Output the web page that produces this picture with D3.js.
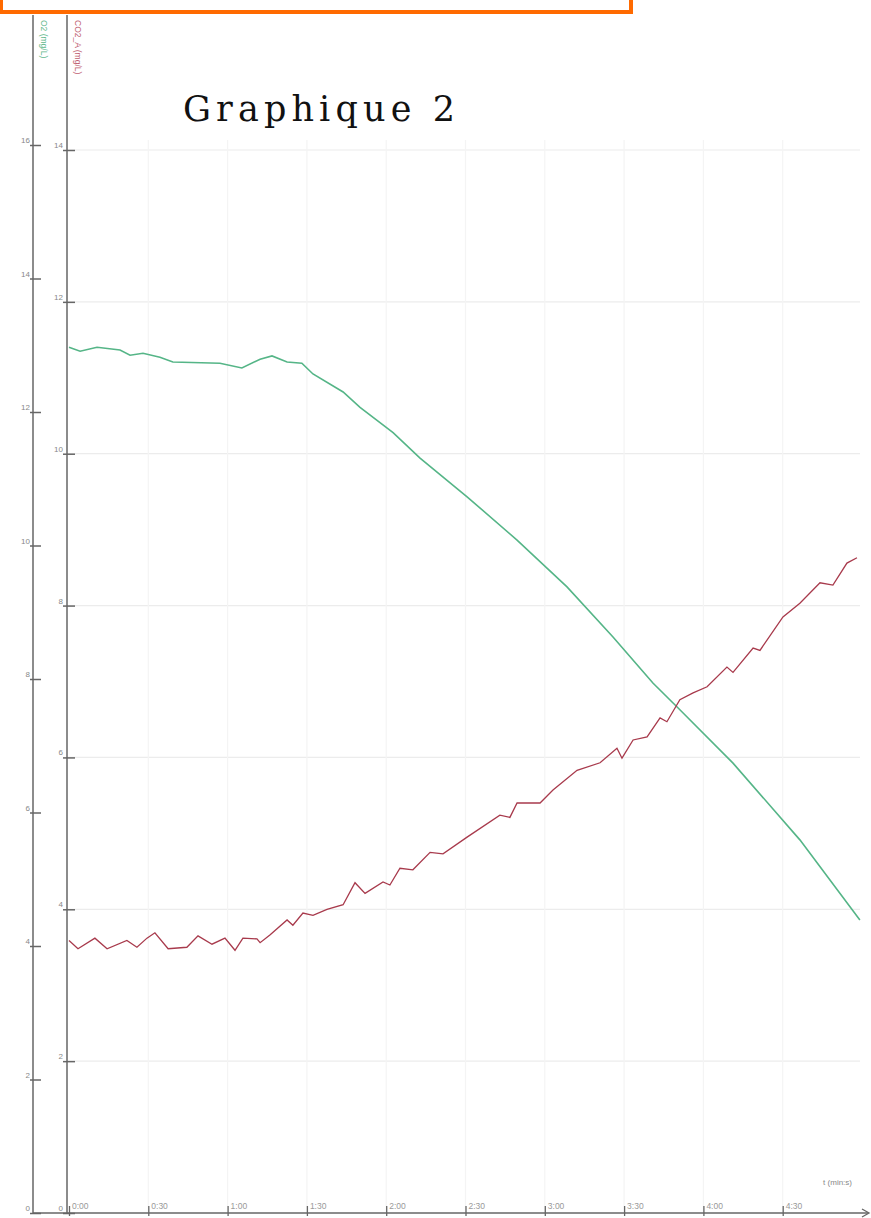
<!DOCTYPE html>
<html><head><meta charset="utf-8">
<script src="https://cdn.jsdelivr.net/npm/d3@7"></script>
<style>body{margin:0;background:#fff}svg{display:block}</style>
</head><body>
<script>
// time in seconds
const o2Time = [0,4.2,10.6,19.3,23.1,28.0,34.4,39.3,57.1,65.4,72.3,76.8,82.5,88.1,92.3,103.7,110.1,122.6,132.8,150.6,169.5,188.4,205.8,220.9,231.1,251.2,276.5,299.2];
const o2Values = [12.97,12.91,12.97,12.93,12.85,12.88,12.82,12.75,12.73,12.66,12.79,12.84,12.75,12.73,12.57,12.30,12.07,11.69,11.31,10.73,10.08,9.38,8.63,7.94,7.54,6.74,5.59,4.39];
const co2Time = [0,3.4,9.8,14.4,21.9,25.7,29.5,32.5,37.5,44.6,48.8,54.1,59.0,62.8,65.8,71.1,72.3,76.0,82.5,84.7,88.5,92.3,97.6,103.7,108.2,112.0,118.8,121.4,125.2,130.1,136.6,141.5,150.6,163.0,166.8,169.5,178.2,183.1,192.2,200.9,207.3,209.2,213.4,218.7,223.6,226.2,231.1,236.1,241.4,248.9,251.2,258.8,261.4,270.1,276.5,284.1,289.0,294.3,298.1];
const co2Values = [3.59,3.48,3.62,3.48,3.59,3.50,3.62,3.69,3.48,3.50,3.65,3.54,3.62,3.46,3.62,3.61,3.56,3.66,3.86,3.79,3.95,3.92,4.00,4.06,4.35,4.21,4.36,4.32,4.54,4.52,4.75,4.73,4.95,5.24,5.21,5.40,5.40,5.57,5.83,5.93,6.12,5.99,6.23,6.27,6.52,6.47,6.76,6.85,6.93,7.19,7.12,7.44,7.41,7.85,8.03,8.30,8.27,8.56,8.63];
const xTickValues = [0,30,60,90,120,150,180,210,240,270];
const xTickLabels = ["0:00","0:30","1:00","1:30","2:00","2:30","3:00","3:30","4:00","4:30"];
const o2Ticks = [0,2,4,6,8,10,12,14,16];
const co2Ticks = [0,2,4,6,8,10,12,14];
const title = "Graphique 2";
const o2Label = "O2 (mg/L)";
const co2Label = "CO2_A (mg/L)";
const xLabel = "t (min:s)";

const W = 871, H = 1218;
const svg = d3.select("body").append("svg").attr("width", W).attr("height", H);

const x = d3.scaleLinear().domain([0, 300]).range([69, 862]);
const yO2 = d3.scaleLinear().domain([0, 16]).range([1213, 145]);
const yCO2 = d3.scaleLinear().domain([0, 14]).range([1213, 150]);
const axisY = 1213, leftX = 33, rightX = 67;

// orange frame (partial, top)
svg.append("path").attr("d", "M1,-5 L1,12 L631,12 L631,-5")
  .attr("fill", "none").attr("stroke", "#ff6a00").attr("stroke-width", 4);

// gridlines
svg.append("g").selectAll("line").data(co2Ticks.filter(d => d > 0)).join("line")
  .attr("x1", rightX).attr("x2", 860).attr("y1", d => yCO2(d)).attr("y2", d => yCO2(d))
  .attr("stroke", "#ececec").attr("stroke-width", 1.2);
svg.append("g").selectAll("line").data(xTickValues.filter(d => d > 0)).join("line")
  .attr("x1", d => x(d)).attr("x2", d => x(d)).attr("y1", 140).attr("y2", axisY)
  .attr("stroke", "#f4f4f4").attr("stroke-width", 1.2);

// left (O2) axis
const gL = svg.append("g").attr("transform", `translate(${leftX},0)`)
  .call(d3.axisRight(yO2).tickValues(o2Ticks).tickSize(8).tickFormat(""));
gL.select(".domain").remove();
gL.selectAll(".tick line").attr("stroke", "#666").attr("stroke-width", 1.5).attr("x1", -3);
svg.append("line").attr("x1", leftX).attr("x2", leftX).attr("y1", 15).attr("y2", axisY)
  .attr("stroke", "#666").attr("stroke-width", 1.5);
svg.append("g").selectAll("text").data(o2Ticks).join("text")
  .attr("x", leftX - 3).attr("y", d => yO2(d) - 2).attr("text-anchor", "end")
  .attr("font-family", "Liberation Sans, Arial, sans-serif").attr("font-size", 8)
  .attr("fill", "#888").text(d => d);

// right (CO2) axis
const gR = svg.append("g").attr("transform", `translate(${rightX},0)`)
  .call(d3.axisRight(yCO2).tickValues(co2Ticks).tickSize(8).tickFormat(""));
gR.select(".domain").remove();
gR.selectAll(".tick line").attr("stroke", "#666").attr("stroke-width", 1.5).attr("x1", -4);
svg.append("line").attr("x1", rightX).attr("x2", rightX).attr("y1", 15).attr("y2", axisY)
  .attr("stroke", "#666").attr("stroke-width", 1.5);
svg.append("g").selectAll("text").data(co2Ticks).join("text")
  .attr("x", rightX - 4).attr("y", d => yCO2(d) - 2).attr("text-anchor", "end")
  .attr("font-family", "Liberation Sans, Arial, sans-serif").attr("font-size", 8)
  .attr("fill", "#888").text(d => d);

// bottom axis
svg.append("line").attr("x1", leftX).attr("x2", 868).attr("y1", axisY).attr("y2", axisY)
  .attr("stroke", "#666").attr("stroke-width", 1.5);
svg.append("path").attr("d", `M862,${axisY - 4} L869,${axisY} L862,${axisY + 4}`)
  .attr("fill", "none").attr("stroke", "#666").attr("stroke-width", 1.3);
const gB = svg.append("g").attr("transform", `translate(0,${axisY})`)
  .call(d3.axisTop(x).tickValues(xTickValues).tickSize(7).tickFormat(""));
gB.select(".domain").remove();
gB.selectAll(".tick line").attr("stroke", "#666").attr("stroke-width", 1.3).attr("y1", 3);
svg.append("g").selectAll("text").data(xTickValues).join("text")
  .attr("x", d => x(d) + 3).attr("y", axisY - 4)
  .attr("font-family", "Liberation Sans, Arial, sans-serif").attr("font-size", 8.5)
  .attr("fill", "#999").text((d, i) => xTickLabels[i]);
svg.append("text").attr("x", 852).attr("y", 1185).attr("text-anchor", "end")
  .attr("font-family", "Liberation Sans, Arial, sans-serif").attr("font-size", 8)
  .attr("fill", "#888").text(xLabel);

// axis titles (vertical)
svg.append("text").attr("transform", `translate(41,20) rotate(90)`)
  .attr("font-family", "Liberation Sans, Arial, sans-serif").attr("font-size", 8.5)
  .attr("fill", "#5fb88c").text(o2Label);
svg.append("text").attr("transform", `translate(75,20) rotate(90)`)
  .attr("font-family", "Liberation Sans, Arial, sans-serif").attr("font-size", 8.5)
  .attr("fill", "#c06070").text(co2Label);

// title
svg.append("text").attr("x", 183).attr("y", 121)
  .attr("font-family", "DejaVu Serif, serif").attr("font-size", 35)
  .attr("textLength", 272).attr("lengthAdjust", "spacing")
  .attr("fill", "#111").text(title);

// series
const o2Data = o2Time.map((t, i) => [t, o2Values[i]]);
const co2Data = co2Time.map((t, i) => [t, co2Values[i]]);
svg.append("path").datum(o2Data)
  .attr("d", d3.line().x(d => x(d[0])).y(d => yO2(d[1])))
  .attr("fill", "none").attr("stroke", "#55b587").attr("stroke-width", 1.6);
svg.append("path").datum(co2Data)
  .attr("d", d3.line().x(d => x(d[0])).y(d => yCO2(d[1])))
  .attr("fill", "none").attr("stroke", "#a83a4c").attr("stroke-width", 1.3);
</script>
</body></html>
